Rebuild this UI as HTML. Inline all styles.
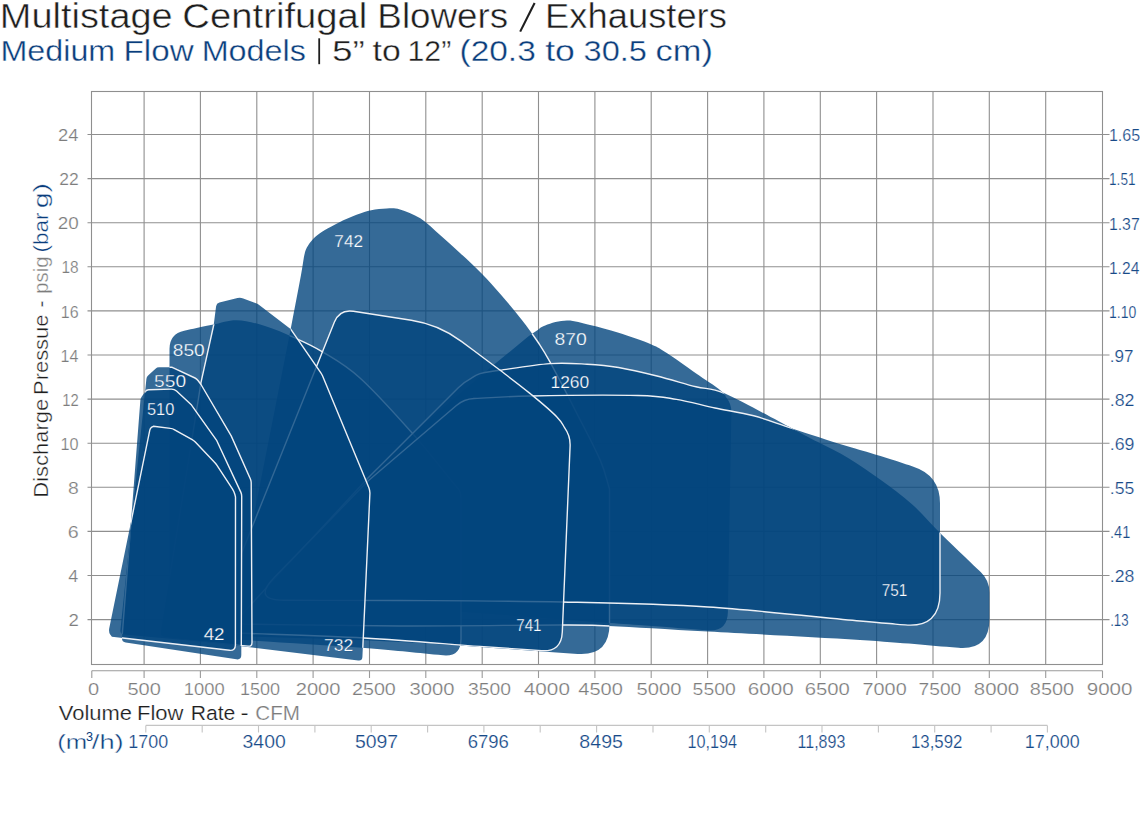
<!DOCTYPE html>
<html><head><meta charset="utf-8"><style>
html,body{margin:0;padding:0;background:#fff;width:1140px;height:838px;overflow:hidden}
body{position:relative;font-family:"Liberation Sans",sans-serif}
svg text{font-family:"Liberation Sans",sans-serif}
</style></head><body>
<svg width="1140" height="838" viewBox="0 0 1140 838" style="position:absolute;left:0;top:0;font-family:'Liberation Sans',sans-serif"><g stroke="#8f8f8f" stroke-width="1.1" fill="none"><line x1="144.1" y1="91" x2="144.1" y2="664.5"/><line x1="200.4" y1="91" x2="200.4" y2="664.5"/><line x1="256.8" y1="91" x2="256.8" y2="664.5"/><line x1="313.1" y1="91" x2="313.1" y2="664.5"/><line x1="369.5" y1="91" x2="369.5" y2="664.5"/><line x1="425.8" y1="91" x2="425.8" y2="664.5"/><line x1="482.2" y1="91" x2="482.2" y2="664.5"/><line x1="538.5" y1="91" x2="538.5" y2="664.5"/><line x1="594.9" y1="91" x2="594.9" y2="664.5"/><line x1="651.2" y1="91" x2="651.2" y2="664.5"/><line x1="707.6" y1="91" x2="707.6" y2="664.5"/><line x1="763.9" y1="91" x2="763.9" y2="664.5"/><line x1="820.3" y1="91" x2="820.3" y2="664.5"/><line x1="876.6" y1="91" x2="876.6" y2="664.5"/><line x1="933.0" y1="91" x2="933.0" y2="664.5"/><line x1="989.3" y1="91" x2="989.3" y2="664.5"/><line x1="1045.7" y1="91" x2="1045.7" y2="664.5"/><line x1="87.5" y1="619.6" x2="1109.5" y2="619.6"/><line x1="87.5" y1="575.5" x2="1109.5" y2="575.5"/><line x1="87.5" y1="531.4" x2="1109.5" y2="531.4"/><line x1="87.5" y1="487.3" x2="1109.5" y2="487.3"/><line x1="87.5" y1="443.2" x2="1109.5" y2="443.2"/><line x1="87.5" y1="399.1" x2="1109.5" y2="399.1"/><line x1="87.5" y1="355.0" x2="1109.5" y2="355.0"/><line x1="87.5" y1="310.9" x2="1109.5" y2="310.9"/><line x1="87.5" y1="266.8" x2="1109.5" y2="266.8"/><line x1="87.5" y1="222.7" x2="1109.5" y2="222.7"/><line x1="87.5" y1="178.6" x2="1109.5" y2="178.6"/><line x1="87.5" y1="134.5" x2="1109.5" y2="134.5"/><rect x="91.5" y="91.5" width="1011" height="573" fill="none"/></g><g stroke="#9a9a9a" stroke-width="1.1" fill="none"><line x1="91.8" y1="670.7" x2="1102.5" y2="670.7"/><line x1="91.8" y1="670.7" x2="91.8" y2="678"/><line x1="144.1" y1="670.7" x2="144.1" y2="678"/><line x1="200.4" y1="670.7" x2="200.4" y2="678"/><line x1="256.8" y1="670.7" x2="256.8" y2="678"/><line x1="313.1" y1="670.7" x2="313.1" y2="678"/><line x1="369.5" y1="670.7" x2="369.5" y2="678"/><line x1="425.8" y1="670.7" x2="425.8" y2="678"/><line x1="482.2" y1="670.7" x2="482.2" y2="678"/><line x1="538.5" y1="670.7" x2="538.5" y2="678"/><line x1="594.9" y1="670.7" x2="594.9" y2="678"/><line x1="651.2" y1="670.7" x2="651.2" y2="678"/><line x1="707.6" y1="670.7" x2="707.6" y2="678"/><line x1="763.9" y1="670.7" x2="763.9" y2="678"/><line x1="820.3" y1="670.7" x2="820.3" y2="678"/><line x1="876.6" y1="670.7" x2="876.6" y2="678"/><line x1="933.0" y1="670.7" x2="933.0" y2="678"/><line x1="989.3" y1="670.7" x2="989.3" y2="678"/><line x1="1045.7" y1="670.7" x2="1045.7" y2="678"/><line x1="1102.5" y1="670.7" x2="1102.5" y2="678"/></g><g stroke="#c4c4c4" stroke-width="1.1" fill="none"><line x1="145.8" y1="725.4" x2="1047.4" y2="725.4"/><line x1="145.8" y1="725.4" x2="145.8" y2="732.5"/><line x1="202.2" y1="725.4" x2="202.2" y2="732.5"/><line x1="258.5" y1="725.4" x2="258.5" y2="732.5"/><line x1="314.9" y1="725.4" x2="314.9" y2="732.5"/><line x1="371.2" y1="725.4" x2="371.2" y2="732.5"/><line x1="427.6" y1="725.4" x2="427.6" y2="732.5"/><line x1="483.9" y1="725.4" x2="483.9" y2="732.5"/><line x1="540.2" y1="725.4" x2="540.2" y2="732.5"/><line x1="596.6" y1="725.4" x2="596.6" y2="732.5"/><line x1="653.0" y1="725.4" x2="653.0" y2="732.5"/><line x1="709.3" y1="725.4" x2="709.3" y2="732.5"/><line x1="765.7" y1="725.4" x2="765.7" y2="732.5"/><line x1="822.0" y1="725.4" x2="822.0" y2="732.5"/><line x1="878.4" y1="725.4" x2="878.4" y2="732.5"/><line x1="934.7" y1="725.4" x2="934.7" y2="732.5"/><line x1="991.1" y1="725.4" x2="991.1" y2="732.5"/><line x1="1047.4" y1="725.4" x2="1047.4" y2="732.5"/></g><defs><mask id="m742" maskUnits="userSpaceOnUse" x="0" y="0" width="1140" height="838"><path d="M494.7,364.1L527.3,337.3Q531.9,333.5 537.0,330.4C539.7,328.7 539.4,327.5 545.2,325.4C551.1,323.2 559.5,320.7 567.0,320.6C574.5,320.5 581.4,323.0 590.0,325.0C598.6,327.0 608.4,329.6 618.6,332.8C628.8,336.0 643.4,341.0 651.4,344.4C659.4,347.8 659.4,348.3 666.8,353.1C674.2,357.9 686.8,367.0 695.8,373.3C704.8,379.6 714.9,385.6 720.9,390.7C726.9,395.8 724.6,395.4 726.5,397.7Q731.5,404.0 731.4,412.0L727.9,612.0Q727.5,632.0 707.6,630.4C689.0,628.9 671.8,627.5 652.0,626.0C632.2,624.5 623.3,624.0 609.0,623.0L314.0,601.0Q300.0,600.0 304.9,586.9L330.0,520.0L412.0,434.0L494.7,364.1Z" fill="#fff"/></mask><mask id="m850" maskUnits="userSpaceOnUse" x="0" y="0" width="1140" height="838"><path d="M494.7,364.1L527.3,337.3Q531.9,333.5 537.0,330.4C539.7,328.7 539.4,327.5 545.2,325.4C551.1,323.2 559.5,320.7 567.0,320.6C574.5,320.5 581.4,323.0 590.0,325.0C598.6,327.0 608.4,329.6 618.6,332.8C628.8,336.0 643.4,341.0 651.4,344.4C659.4,347.8 659.4,348.3 666.8,353.1C674.2,357.9 686.8,367.0 695.8,373.3C704.8,379.6 714.9,385.6 720.9,390.7C726.9,395.8 724.6,395.4 726.5,397.7Q731.5,404.0 731.4,412.0L727.9,612.0Q727.5,632.0 707.6,630.4C689.0,628.9 671.8,627.5 652.0,626.0C632.2,624.5 623.3,624.0 609.0,623.0L314.0,601.0Q300.0,600.0 304.9,586.9L330.0,520.0L412.0,434.0L494.7,364.1Z" fill="#fff"/><path d="M290.5,330.0C294.0,311.7 298.6,287.7 301.0,275.0C303.4,262.3 303.4,258.9 304.6,254.0C305.8,249.1 306.4,248.3 308.1,245.5C309.9,242.7 312.3,239.7 315.1,237.1C317.9,234.5 320.9,232.5 324.9,230.1C328.9,227.7 333.6,225.0 339.0,222.4C344.4,219.8 351.8,216.6 357.2,214.6C362.6,212.6 366.3,211.2 371.2,210.2C376.1,209.2 381.9,208.5 386.7,208.4C391.5,208.3 394.4,207.8 400.0,209.4C405.6,211.1 413.5,214.0 420.3,218.3C427.1,222.7 433.9,229.6 440.6,235.5C447.4,241.4 454.1,247.4 460.8,253.7C467.6,259.9 474.3,266.1 481.1,273.0C487.9,279.9 494.6,287.5 501.4,295.3C508.2,303.1 515.6,311.9 521.7,319.7C527.8,327.5 533.2,334.9 537.9,342.0C542.6,349.1 543.6,350.2 550.1,362.2C556.6,374.1 568.6,397.3 577.0,413.7C585.4,430.1 594.9,447.8 600.3,460.4C605.7,472.9 606.4,479.5 609.5,489.0L609.5,624.0Q609.5,656.0 577.6,653.9C518.4,649.9 463.2,645.3 400.0,642.0C336.8,638.7 290.7,638.1 236.0,636.2Q230.0,636.0 231.2,630.1L290.5,330.0Z" fill="#fff"/></mask><mask id="m1260" maskUnits="userSpaceOnUse" x="0" y="0" width="1140" height="838"><path d="M494.7,364.1L527.3,337.3Q531.9,333.5 537.0,330.4C539.7,328.7 539.4,327.5 545.2,325.4C551.1,323.2 559.5,320.7 567.0,320.6C574.5,320.5 581.4,323.0 590.0,325.0C598.6,327.0 608.4,329.6 618.6,332.8C628.8,336.0 643.4,341.0 651.4,344.4C659.4,347.8 659.4,348.3 666.8,353.1C674.2,357.9 686.8,367.0 695.8,373.3C704.8,379.6 714.9,385.6 720.9,390.7C726.9,395.8 724.6,395.4 726.5,397.7Q731.5,404.0 731.4,412.0L727.9,612.0Q727.5,632.0 707.6,630.4C689.0,628.9 671.8,627.5 652.0,626.0C632.2,624.5 623.3,624.0 609.0,623.0L314.0,601.0Q300.0,600.0 304.9,586.9L330.0,520.0L412.0,434.0L494.7,364.1Z" fill="#fff"/><path d="M290.5,330.0C294.0,311.7 298.6,287.7 301.0,275.0C303.4,262.3 303.4,258.9 304.6,254.0C305.8,249.1 306.4,248.3 308.1,245.5C309.9,242.7 312.3,239.7 315.1,237.1C317.9,234.5 320.9,232.5 324.9,230.1C328.9,227.7 333.6,225.0 339.0,222.4C344.4,219.8 351.8,216.6 357.2,214.6C362.6,212.6 366.3,211.2 371.2,210.2C376.1,209.2 381.9,208.5 386.7,208.4C391.5,208.3 394.4,207.8 400.0,209.4C405.6,211.1 413.5,214.0 420.3,218.3C427.1,222.7 433.9,229.6 440.6,235.5C447.4,241.4 454.1,247.4 460.8,253.7C467.6,259.9 474.3,266.1 481.1,273.0C487.9,279.9 494.6,287.5 501.4,295.3C508.2,303.1 515.6,311.9 521.7,319.7C527.8,327.5 533.2,334.9 537.9,342.0C542.6,349.1 543.6,350.2 550.1,362.2C556.6,374.1 568.6,397.3 577.0,413.7C585.4,430.1 594.9,447.8 600.3,460.4C605.7,472.9 606.4,479.5 609.5,489.0L609.5,624.0Q609.5,656.0 577.6,653.9C518.4,649.9 463.2,645.3 400.0,642.0C336.8,638.7 290.7,638.1 236.0,636.2Q230.0,636.0 231.2,630.1L290.5,330.0Z" fill="#fff"/><path d="M184.2,330.8C193.1,328.9 199.7,327.4 210.9,325.1C222.1,322.8 227.8,320.1 236.8,320.2C245.8,320.3 255.4,323.1 265.0,326.0C274.6,328.9 284.8,333.4 294.4,337.7C304.0,342.0 311.6,345.1 322.5,351.8C333.4,358.5 344.8,364.2 360.0,378.0C375.2,391.8 397.9,417.0 413.7,434.8C429.5,452.6 441.2,468.3 455.0,485.0L458.0,488.5Q461.0,492.0 461.0,498.0L461.0,639.0Q461.0,657.0 443.1,655.3C417.1,652.9 399.8,650.8 365.0,648.0C330.2,645.2 284.6,642.8 252.0,640.5C219.4,638.2 199.7,636.4 173.5,634.3Q169.5,634.0 169.5,630.0L169.5,349.0Q169.5,334.0 184.2,330.8Z" fill="#fff"/></mask><mask id="m751" maskUnits="userSpaceOnUse" x="0" y="0" width="1140" height="838"><path d="M494.7,364.1L527.3,337.3Q531.9,333.5 537.0,330.4C539.7,328.7 539.4,327.5 545.2,325.4C551.1,323.2 559.5,320.7 567.0,320.6C574.5,320.5 581.4,323.0 590.0,325.0C598.6,327.0 608.4,329.6 618.6,332.8C628.8,336.0 643.4,341.0 651.4,344.4C659.4,347.8 659.4,348.3 666.8,353.1C674.2,357.9 686.8,367.0 695.8,373.3C704.8,379.6 714.9,385.6 720.9,390.7C726.9,395.8 724.6,395.4 726.5,397.7Q731.5,404.0 731.4,412.0L727.9,612.0Q727.5,632.0 707.6,630.4C689.0,628.9 671.8,627.5 652.0,626.0C632.2,624.5 623.3,624.0 609.0,623.0L314.0,601.0Q300.0,600.0 304.9,586.9L330.0,520.0L412.0,434.0L494.7,364.1Z" fill="#fff"/><path d="M290.5,330.0C294.0,311.7 298.6,287.7 301.0,275.0C303.4,262.3 303.4,258.9 304.6,254.0C305.8,249.1 306.4,248.3 308.1,245.5C309.9,242.7 312.3,239.7 315.1,237.1C317.9,234.5 320.9,232.5 324.9,230.1C328.9,227.7 333.6,225.0 339.0,222.4C344.4,219.8 351.8,216.6 357.2,214.6C362.6,212.6 366.3,211.2 371.2,210.2C376.1,209.2 381.9,208.5 386.7,208.4C391.5,208.3 394.4,207.8 400.0,209.4C405.6,211.1 413.5,214.0 420.3,218.3C427.1,222.7 433.9,229.6 440.6,235.5C447.4,241.4 454.1,247.4 460.8,253.7C467.6,259.9 474.3,266.1 481.1,273.0C487.9,279.9 494.6,287.5 501.4,295.3C508.2,303.1 515.6,311.9 521.7,319.7C527.8,327.5 533.2,334.9 537.9,342.0C542.6,349.1 543.6,350.2 550.1,362.2C556.6,374.1 568.6,397.3 577.0,413.7C585.4,430.1 594.9,447.8 600.3,460.4C605.7,472.9 606.4,479.5 609.5,489.0L609.5,624.0Q609.5,656.0 577.6,653.9C518.4,649.9 463.2,645.3 400.0,642.0C336.8,638.7 290.7,638.1 236.0,636.2Q230.0,636.0 231.2,630.1L290.5,330.0Z" fill="#fff"/><path d="M184.2,330.8C193.1,328.9 199.7,327.4 210.9,325.1C222.1,322.8 227.8,320.1 236.8,320.2C245.8,320.3 255.4,323.1 265.0,326.0C274.6,328.9 284.8,333.4 294.4,337.7C304.0,342.0 311.6,345.1 322.5,351.8C333.4,358.5 344.8,364.2 360.0,378.0C375.2,391.8 397.9,417.0 413.7,434.8C429.5,452.6 441.2,468.3 455.0,485.0L458.0,488.5Q461.0,492.0 461.0,498.0L461.0,639.0Q461.0,657.0 443.1,655.3C417.1,652.9 399.8,650.8 365.0,648.0C330.2,645.2 284.6,642.8 252.0,640.5C219.4,638.2 199.7,636.4 173.5,634.3Q169.5,634.0 169.5,630.0L169.5,349.0Q169.5,334.0 184.2,330.8Z" fill="#fff"/><path d="M242.5,613.7L367.0,479.0L458.3,387.7Q464.0,382.0 471.1,378.3C474.1,376.7 474.0,375.6 480.0,373.6C486.0,371.7 488.3,372.0 500.0,370.3C511.7,368.6 535.5,364.6 550.0,363.6C564.5,362.6 575.6,363.6 587.0,364.2C598.4,364.8 606.9,365.5 618.6,367.5C630.3,369.5 644.1,372.8 657.0,376.0C669.9,379.2 684.7,383.9 696.0,386.8C707.3,389.7 709.0,386.7 725.0,393.6C741.0,400.5 776.6,420.4 792.0,428.4C807.4,436.4 807.9,436.8 817.4,441.8C826.9,446.8 838.5,452.1 849.0,458.4C859.5,464.7 870.0,472.1 880.5,479.7C891.0,487.3 902.1,495.3 912.0,504.2C921.9,513.1 931.2,524.2 940.0,533.0C948.8,541.8 956.8,549.1 965.0,557.0C973.2,564.9 975.5,567.1 980.7,572.1Q989.4,580.4 989.4,592.4L989.4,619.2Q989.4,650.2 958.5,647.8C925.7,645.2 906.9,643.1 860.0,640.0C813.1,636.9 749.8,633.9 708.0,631.6C666.2,629.3 633.7,627.1 609.0,626.0C584.3,624.9 594.8,625.0 560.0,625.0C525.2,625.0 454.5,626.2 400.0,626.0C345.5,625.8 298.0,624.8 247.0,624.2Q233.0,624.0 242.5,613.7Z" fill="#fff"/></mask><mask id="m741" maskUnits="userSpaceOnUse" x="0" y="0" width="1140" height="838"><path d="M494.7,364.1L527.3,337.3Q531.9,333.5 537.0,330.4C539.7,328.7 539.4,327.5 545.2,325.4C551.1,323.2 559.5,320.7 567.0,320.6C574.5,320.5 581.4,323.0 590.0,325.0C598.6,327.0 608.4,329.6 618.6,332.8C628.8,336.0 643.4,341.0 651.4,344.4C659.4,347.8 659.4,348.3 666.8,353.1C674.2,357.9 686.8,367.0 695.8,373.3C704.8,379.6 714.9,385.6 720.9,390.7C726.9,395.8 724.6,395.4 726.5,397.7Q731.5,404.0 731.4,412.0L727.9,612.0Q727.5,632.0 707.6,630.4C689.0,628.9 671.8,627.5 652.0,626.0C632.2,624.5 623.3,624.0 609.0,623.0L314.0,601.0Q300.0,600.0 304.9,586.9L330.0,520.0L412.0,434.0L494.7,364.1Z" fill="#fff"/><path d="M290.5,330.0C294.0,311.7 298.6,287.7 301.0,275.0C303.4,262.3 303.4,258.9 304.6,254.0C305.8,249.1 306.4,248.3 308.1,245.5C309.9,242.7 312.3,239.7 315.1,237.1C317.9,234.5 320.9,232.5 324.9,230.1C328.9,227.7 333.6,225.0 339.0,222.4C344.4,219.8 351.8,216.6 357.2,214.6C362.6,212.6 366.3,211.2 371.2,210.2C376.1,209.2 381.9,208.5 386.7,208.4C391.5,208.3 394.4,207.8 400.0,209.4C405.6,211.1 413.5,214.0 420.3,218.3C427.1,222.7 433.9,229.6 440.6,235.5C447.4,241.4 454.1,247.4 460.8,253.7C467.6,259.9 474.3,266.1 481.1,273.0C487.9,279.9 494.6,287.5 501.4,295.3C508.2,303.1 515.6,311.9 521.7,319.7C527.8,327.5 533.2,334.9 537.9,342.0C542.6,349.1 543.6,350.2 550.1,362.2C556.6,374.1 568.6,397.3 577.0,413.7C585.4,430.1 594.9,447.8 600.3,460.4C605.7,472.9 606.4,479.5 609.5,489.0L609.5,624.0Q609.5,656.0 577.6,653.9C518.4,649.9 463.2,645.3 400.0,642.0C336.8,638.7 290.7,638.1 236.0,636.2Q230.0,636.0 231.2,630.1L290.5,330.0Z" fill="#fff"/><path d="M184.2,330.8C193.1,328.9 199.7,327.4 210.9,325.1C222.1,322.8 227.8,320.1 236.8,320.2C245.8,320.3 255.4,323.1 265.0,326.0C274.6,328.9 284.8,333.4 294.4,337.7C304.0,342.0 311.6,345.1 322.5,351.8C333.4,358.5 344.8,364.2 360.0,378.0C375.2,391.8 397.9,417.0 413.7,434.8C429.5,452.6 441.2,468.3 455.0,485.0L458.0,488.5Q461.0,492.0 461.0,498.0L461.0,639.0Q461.0,657.0 443.1,655.3C417.1,652.9 399.8,650.8 365.0,648.0C330.2,645.2 284.6,642.8 252.0,640.5C219.4,638.2 199.7,636.4 173.5,634.3Q169.5,634.0 169.5,630.0L169.5,349.0Q169.5,334.0 184.2,330.8Z" fill="#fff"/><path d="M242.5,613.7L367.0,479.0L458.3,387.7Q464.0,382.0 471.1,378.3C474.1,376.7 474.0,375.6 480.0,373.6C486.0,371.7 488.3,372.0 500.0,370.3C511.7,368.6 535.5,364.6 550.0,363.6C564.5,362.6 575.6,363.6 587.0,364.2C598.4,364.8 606.9,365.5 618.6,367.5C630.3,369.5 644.1,372.8 657.0,376.0C669.9,379.2 684.7,383.9 696.0,386.8C707.3,389.7 709.0,386.7 725.0,393.6C741.0,400.5 776.6,420.4 792.0,428.4C807.4,436.4 807.9,436.8 817.4,441.8C826.9,446.8 838.5,452.1 849.0,458.4C859.5,464.7 870.0,472.1 880.5,479.7C891.0,487.3 902.1,495.3 912.0,504.2C921.9,513.1 931.2,524.2 940.0,533.0C948.8,541.8 956.8,549.1 965.0,557.0C973.2,564.9 975.5,567.1 980.7,572.1Q989.4,580.4 989.4,592.4L989.4,619.2Q989.4,650.2 958.5,647.8C925.7,645.2 906.9,643.1 860.0,640.0C813.1,636.9 749.8,633.9 708.0,631.6C666.2,629.3 633.7,627.1 609.0,626.0C584.3,624.9 594.8,625.0 560.0,625.0C525.2,625.0 454.5,626.2 400.0,626.0C345.5,625.8 298.0,624.8 247.0,624.2Q233.0,624.0 242.5,613.7Z" fill="#fff"/><path d="M474.0,398.5C492.7,397.7 501.0,396.6 530.0,396.0C559.0,395.4 613.6,394.9 638.0,395.5C662.4,396.1 663.7,397.3 676.5,399.4C689.3,401.5 702.1,405.3 715.0,408.0C727.9,410.7 740.9,412.4 753.7,415.8C766.5,419.2 776.6,423.4 792.0,428.4C807.4,433.4 831.0,441.2 845.8,445.8C860.5,450.4 864.8,451.2 880.5,456.1C896.2,461.0 902.4,463.2 913.4,466.7Q940.0,475.3 940.0,503.3L940.0,593.0Q940.0,628.0 905.1,624.9C890.1,623.6 898.7,624.5 860.0,621.0C821.3,617.5 757.7,610.2 708.0,607.0C658.3,603.8 613.3,603.1 562.0,602.0C510.7,600.9 451.7,600.8 400.0,600.5C348.3,600.2 322.7,600.4 284.0,600.3Q252.0,600.3 274.3,577.4L368.0,481.0L456.4,405.5Q464.0,399.0 474.0,398.5Z" fill="#fff"/></mask><mask id="m732" maskUnits="userSpaceOnUse" x="0" y="0" width="1140" height="838"><path d="M494.7,364.1L527.3,337.3Q531.9,333.5 537.0,330.4C539.7,328.7 539.4,327.5 545.2,325.4C551.1,323.2 559.5,320.7 567.0,320.6C574.5,320.5 581.4,323.0 590.0,325.0C598.6,327.0 608.4,329.6 618.6,332.8C628.8,336.0 643.4,341.0 651.4,344.4C659.4,347.8 659.4,348.3 666.8,353.1C674.2,357.9 686.8,367.0 695.8,373.3C704.8,379.6 714.9,385.6 720.9,390.7C726.9,395.8 724.6,395.4 726.5,397.7Q731.5,404.0 731.4,412.0L727.9,612.0Q727.5,632.0 707.6,630.4C689.0,628.9 671.8,627.5 652.0,626.0C632.2,624.5 623.3,624.0 609.0,623.0L314.0,601.0Q300.0,600.0 304.9,586.9L330.0,520.0L412.0,434.0L494.7,364.1Z" fill="#fff"/><path d="M290.5,330.0C294.0,311.7 298.6,287.7 301.0,275.0C303.4,262.3 303.4,258.9 304.6,254.0C305.8,249.1 306.4,248.3 308.1,245.5C309.9,242.7 312.3,239.7 315.1,237.1C317.9,234.5 320.9,232.5 324.9,230.1C328.9,227.7 333.6,225.0 339.0,222.4C344.4,219.8 351.8,216.6 357.2,214.6C362.6,212.6 366.3,211.2 371.2,210.2C376.1,209.2 381.9,208.5 386.7,208.4C391.5,208.3 394.4,207.8 400.0,209.4C405.6,211.1 413.5,214.0 420.3,218.3C427.1,222.7 433.9,229.6 440.6,235.5C447.4,241.4 454.1,247.4 460.8,253.7C467.6,259.9 474.3,266.1 481.1,273.0C487.9,279.9 494.6,287.5 501.4,295.3C508.2,303.1 515.6,311.9 521.7,319.7C527.8,327.5 533.2,334.9 537.9,342.0C542.6,349.1 543.6,350.2 550.1,362.2C556.6,374.1 568.6,397.3 577.0,413.7C585.4,430.1 594.9,447.8 600.3,460.4C605.7,472.9 606.4,479.5 609.5,489.0L609.5,624.0Q609.5,656.0 577.6,653.9C518.4,649.9 463.2,645.3 400.0,642.0C336.8,638.7 290.7,638.1 236.0,636.2Q230.0,636.0 231.2,630.1L290.5,330.0Z" fill="#fff"/><path d="M184.2,330.8C193.1,328.9 199.7,327.4 210.9,325.1C222.1,322.8 227.8,320.1 236.8,320.2C245.8,320.3 255.4,323.1 265.0,326.0C274.6,328.9 284.8,333.4 294.4,337.7C304.0,342.0 311.6,345.1 322.5,351.8C333.4,358.5 344.8,364.2 360.0,378.0C375.2,391.8 397.9,417.0 413.7,434.8C429.5,452.6 441.2,468.3 455.0,485.0L458.0,488.5Q461.0,492.0 461.0,498.0L461.0,639.0Q461.0,657.0 443.1,655.3C417.1,652.9 399.8,650.8 365.0,648.0C330.2,645.2 284.6,642.8 252.0,640.5C219.4,638.2 199.7,636.4 173.5,634.3Q169.5,634.0 169.5,630.0L169.5,349.0Q169.5,334.0 184.2,330.8Z" fill="#fff"/><path d="M242.5,613.7L367.0,479.0L458.3,387.7Q464.0,382.0 471.1,378.3C474.1,376.7 474.0,375.6 480.0,373.6C486.0,371.7 488.3,372.0 500.0,370.3C511.7,368.6 535.5,364.6 550.0,363.6C564.5,362.6 575.6,363.6 587.0,364.2C598.4,364.8 606.9,365.5 618.6,367.5C630.3,369.5 644.1,372.8 657.0,376.0C669.9,379.2 684.7,383.9 696.0,386.8C707.3,389.7 709.0,386.7 725.0,393.6C741.0,400.5 776.6,420.4 792.0,428.4C807.4,436.4 807.9,436.8 817.4,441.8C826.9,446.8 838.5,452.1 849.0,458.4C859.5,464.7 870.0,472.1 880.5,479.7C891.0,487.3 902.1,495.3 912.0,504.2C921.9,513.1 931.2,524.2 940.0,533.0C948.8,541.8 956.8,549.1 965.0,557.0C973.2,564.9 975.5,567.1 980.7,572.1Q989.4,580.4 989.4,592.4L989.4,619.2Q989.4,650.2 958.5,647.8C925.7,645.2 906.9,643.1 860.0,640.0C813.1,636.9 749.8,633.9 708.0,631.6C666.2,629.3 633.7,627.1 609.0,626.0C584.3,624.9 594.8,625.0 560.0,625.0C525.2,625.0 454.5,626.2 400.0,626.0C345.5,625.8 298.0,624.8 247.0,624.2Q233.0,624.0 242.5,613.7Z" fill="#fff"/><path d="M474.0,398.5C492.7,397.7 501.0,396.6 530.0,396.0C559.0,395.4 613.6,394.9 638.0,395.5C662.4,396.1 663.7,397.3 676.5,399.4C689.3,401.5 702.1,405.3 715.0,408.0C727.9,410.7 740.9,412.4 753.7,415.8C766.5,419.2 776.6,423.4 792.0,428.4C807.4,433.4 831.0,441.2 845.8,445.8C860.5,450.4 864.8,451.2 880.5,456.1C896.2,461.0 902.4,463.2 913.4,466.7Q940.0,475.3 940.0,503.3L940.0,593.0Q940.0,628.0 905.1,624.9C890.1,623.6 898.7,624.5 860.0,621.0C821.3,617.5 757.7,610.2 708.0,607.0C658.3,603.8 613.3,603.1 562.0,602.0C510.7,600.9 451.7,600.8 400.0,600.5C348.3,600.2 322.7,600.4 284.0,600.3Q252.0,600.3 274.3,577.4L368.0,481.0L456.4,405.5Q464.0,399.0 474.0,398.5Z" fill="#fff"/><path d="M353.4,311.3L411.3,320.3Q439.0,324.6 461.4,341.4C474.3,351.0 484.9,358.8 500.1,370.3C515.3,381.8 520.7,385.8 530.2,393.6C539.7,401.4 550.2,409.9 556.9,417.0C563.6,424.1 562.1,424.2 564.7,427.9Q570.5,436.0 570.1,446.0L562.3,632.0Q561.5,652.0 541.5,650.7C521.0,649.3 512.9,648.8 480.0,646.5C447.1,644.2 409.0,640.4 364.0,638.0C319.0,635.6 265.3,634.2 216.0,632.2Q210.0,632.0 212.2,626.4L334.4,322.1Q339.6,309.1 353.4,311.3Z" fill="#fff"/></mask><mask id="m550" maskUnits="userSpaceOnUse" x="0" y="0" width="1140" height="838"><path d="M494.7,364.1L527.3,337.3Q531.9,333.5 537.0,330.4C539.7,328.7 539.4,327.5 545.2,325.4C551.1,323.2 559.5,320.7 567.0,320.6C574.5,320.5 581.4,323.0 590.0,325.0C598.6,327.0 608.4,329.6 618.6,332.8C628.8,336.0 643.4,341.0 651.4,344.4C659.4,347.8 659.4,348.3 666.8,353.1C674.2,357.9 686.8,367.0 695.8,373.3C704.8,379.6 714.9,385.6 720.9,390.7C726.9,395.8 724.6,395.4 726.5,397.7Q731.5,404.0 731.4,412.0L727.9,612.0Q727.5,632.0 707.6,630.4C689.0,628.9 671.8,627.5 652.0,626.0C632.2,624.5 623.3,624.0 609.0,623.0L314.0,601.0Q300.0,600.0 304.9,586.9L330.0,520.0L412.0,434.0L494.7,364.1Z" fill="#fff"/><path d="M290.5,330.0C294.0,311.7 298.6,287.7 301.0,275.0C303.4,262.3 303.4,258.9 304.6,254.0C305.8,249.1 306.4,248.3 308.1,245.5C309.9,242.7 312.3,239.7 315.1,237.1C317.9,234.5 320.9,232.5 324.9,230.1C328.9,227.7 333.6,225.0 339.0,222.4C344.4,219.8 351.8,216.6 357.2,214.6C362.6,212.6 366.3,211.2 371.2,210.2C376.1,209.2 381.9,208.5 386.7,208.4C391.5,208.3 394.4,207.8 400.0,209.4C405.6,211.1 413.5,214.0 420.3,218.3C427.1,222.7 433.9,229.6 440.6,235.5C447.4,241.4 454.1,247.4 460.8,253.7C467.6,259.9 474.3,266.1 481.1,273.0C487.9,279.9 494.6,287.5 501.4,295.3C508.2,303.1 515.6,311.9 521.7,319.7C527.8,327.5 533.2,334.9 537.9,342.0C542.6,349.1 543.6,350.2 550.1,362.2C556.6,374.1 568.6,397.3 577.0,413.7C585.4,430.1 594.9,447.8 600.3,460.4C605.7,472.9 606.4,479.5 609.5,489.0L609.5,624.0Q609.5,656.0 577.6,653.9C518.4,649.9 463.2,645.3 400.0,642.0C336.8,638.7 290.7,638.1 236.0,636.2Q230.0,636.0 231.2,630.1L290.5,330.0Z" fill="#fff"/><path d="M184.2,330.8C193.1,328.9 199.7,327.4 210.9,325.1C222.1,322.8 227.8,320.1 236.8,320.2C245.8,320.3 255.4,323.1 265.0,326.0C274.6,328.9 284.8,333.4 294.4,337.7C304.0,342.0 311.6,345.1 322.5,351.8C333.4,358.5 344.8,364.2 360.0,378.0C375.2,391.8 397.9,417.0 413.7,434.8C429.5,452.6 441.2,468.3 455.0,485.0L458.0,488.5Q461.0,492.0 461.0,498.0L461.0,639.0Q461.0,657.0 443.1,655.3C417.1,652.9 399.8,650.8 365.0,648.0C330.2,645.2 284.6,642.8 252.0,640.5C219.4,638.2 199.7,636.4 173.5,634.3Q169.5,634.0 169.5,630.0L169.5,349.0Q169.5,334.0 184.2,330.8Z" fill="#fff"/><path d="M242.5,613.7L367.0,479.0L458.3,387.7Q464.0,382.0 471.1,378.3C474.1,376.7 474.0,375.6 480.0,373.6C486.0,371.7 488.3,372.0 500.0,370.3C511.7,368.6 535.5,364.6 550.0,363.6C564.5,362.6 575.6,363.6 587.0,364.2C598.4,364.8 606.9,365.5 618.6,367.5C630.3,369.5 644.1,372.8 657.0,376.0C669.9,379.2 684.7,383.9 696.0,386.8C707.3,389.7 709.0,386.7 725.0,393.6C741.0,400.5 776.6,420.4 792.0,428.4C807.4,436.4 807.9,436.8 817.4,441.8C826.9,446.8 838.5,452.1 849.0,458.4C859.5,464.7 870.0,472.1 880.5,479.7C891.0,487.3 902.1,495.3 912.0,504.2C921.9,513.1 931.2,524.2 940.0,533.0C948.8,541.8 956.8,549.1 965.0,557.0C973.2,564.9 975.5,567.1 980.7,572.1Q989.4,580.4 989.4,592.4L989.4,619.2Q989.4,650.2 958.5,647.8C925.7,645.2 906.9,643.1 860.0,640.0C813.1,636.9 749.8,633.9 708.0,631.6C666.2,629.3 633.7,627.1 609.0,626.0C584.3,624.9 594.8,625.0 560.0,625.0C525.2,625.0 454.5,626.2 400.0,626.0C345.5,625.8 298.0,624.8 247.0,624.2Q233.0,624.0 242.5,613.7Z" fill="#fff"/><path d="M474.0,398.5C492.7,397.7 501.0,396.6 530.0,396.0C559.0,395.4 613.6,394.9 638.0,395.5C662.4,396.1 663.7,397.3 676.5,399.4C689.3,401.5 702.1,405.3 715.0,408.0C727.9,410.7 740.9,412.4 753.7,415.8C766.5,419.2 776.6,423.4 792.0,428.4C807.4,433.4 831.0,441.2 845.8,445.8C860.5,450.4 864.8,451.2 880.5,456.1C896.2,461.0 902.4,463.2 913.4,466.7Q940.0,475.3 940.0,503.3L940.0,593.0Q940.0,628.0 905.1,624.9C890.1,623.6 898.7,624.5 860.0,621.0C821.3,617.5 757.7,610.2 708.0,607.0C658.3,603.8 613.3,603.1 562.0,602.0C510.7,600.9 451.7,600.8 400.0,600.5C348.3,600.2 322.7,600.4 284.0,600.3Q252.0,600.3 274.3,577.4L368.0,481.0L456.4,405.5Q464.0,399.0 474.0,398.5Z" fill="#fff"/><path d="M353.4,311.3L411.3,320.3Q439.0,324.6 461.4,341.4C474.3,351.0 484.9,358.8 500.1,370.3C515.3,381.8 520.7,385.8 530.2,393.6C539.7,401.4 550.2,409.9 556.9,417.0C563.6,424.1 562.1,424.2 564.7,427.9Q570.5,436.0 570.1,446.0L562.3,632.0Q561.5,652.0 541.5,650.7C521.0,649.3 512.9,648.8 480.0,646.5C447.1,644.2 409.0,640.4 364.0,638.0C319.0,635.6 265.3,634.2 216.0,632.2Q210.0,632.0 212.2,626.4L334.4,322.1Q339.6,309.1 353.4,311.3Z" fill="#fff"/><path d="M219.4,302.6L237.5,298.0Q240.4,297.3 243.2,298.4L256.0,303.3Q257.9,304.0 259.5,305.2L290.9,329.3L320.7,372.6Q321.8,374.2 322.6,376.0L368.9,487.7Q370.0,490.5 369.9,493.5L362.4,657.0Q362.2,661.0 358.2,660.5L252.0,647.4L165.0,637.1Q160.0,636.5 160.8,631.6L189.0,458.0L201.0,382.4L213.7,325.0L216.1,306.3Q216.5,303.3 219.4,302.6Z" fill="#fff"/></mask><mask id="m510" maskUnits="userSpaceOnUse" x="0" y="0" width="1140" height="838"><path d="M494.7,364.1L527.3,337.3Q531.9,333.5 537.0,330.4C539.7,328.7 539.4,327.5 545.2,325.4C551.1,323.2 559.5,320.7 567.0,320.6C574.5,320.5 581.4,323.0 590.0,325.0C598.6,327.0 608.4,329.6 618.6,332.8C628.8,336.0 643.4,341.0 651.4,344.4C659.4,347.8 659.4,348.3 666.8,353.1C674.2,357.9 686.8,367.0 695.8,373.3C704.8,379.6 714.9,385.6 720.9,390.7C726.9,395.8 724.6,395.4 726.5,397.7Q731.5,404.0 731.4,412.0L727.9,612.0Q727.5,632.0 707.6,630.4C689.0,628.9 671.8,627.5 652.0,626.0C632.2,624.5 623.3,624.0 609.0,623.0L314.0,601.0Q300.0,600.0 304.9,586.9L330.0,520.0L412.0,434.0L494.7,364.1Z" fill="#fff"/><path d="M290.5,330.0C294.0,311.7 298.6,287.7 301.0,275.0C303.4,262.3 303.4,258.9 304.6,254.0C305.8,249.1 306.4,248.3 308.1,245.5C309.9,242.7 312.3,239.7 315.1,237.1C317.9,234.5 320.9,232.5 324.9,230.1C328.9,227.7 333.6,225.0 339.0,222.4C344.4,219.8 351.8,216.6 357.2,214.6C362.6,212.6 366.3,211.2 371.2,210.2C376.1,209.2 381.9,208.5 386.7,208.4C391.5,208.3 394.4,207.8 400.0,209.4C405.6,211.1 413.5,214.0 420.3,218.3C427.1,222.7 433.9,229.6 440.6,235.5C447.4,241.4 454.1,247.4 460.8,253.7C467.6,259.9 474.3,266.1 481.1,273.0C487.9,279.9 494.6,287.5 501.4,295.3C508.2,303.1 515.6,311.9 521.7,319.7C527.8,327.5 533.2,334.9 537.9,342.0C542.6,349.1 543.6,350.2 550.1,362.2C556.6,374.1 568.6,397.3 577.0,413.7C585.4,430.1 594.9,447.8 600.3,460.4C605.7,472.9 606.4,479.5 609.5,489.0L609.5,624.0Q609.5,656.0 577.6,653.9C518.4,649.9 463.2,645.3 400.0,642.0C336.8,638.7 290.7,638.1 236.0,636.2Q230.0,636.0 231.2,630.1L290.5,330.0Z" fill="#fff"/><path d="M184.2,330.8C193.1,328.9 199.7,327.4 210.9,325.1C222.1,322.8 227.8,320.1 236.8,320.2C245.8,320.3 255.4,323.1 265.0,326.0C274.6,328.9 284.8,333.4 294.4,337.7C304.0,342.0 311.6,345.1 322.5,351.8C333.4,358.5 344.8,364.2 360.0,378.0C375.2,391.8 397.9,417.0 413.7,434.8C429.5,452.6 441.2,468.3 455.0,485.0L458.0,488.5Q461.0,492.0 461.0,498.0L461.0,639.0Q461.0,657.0 443.1,655.3C417.1,652.9 399.8,650.8 365.0,648.0C330.2,645.2 284.6,642.8 252.0,640.5C219.4,638.2 199.7,636.4 173.5,634.3Q169.5,634.0 169.5,630.0L169.5,349.0Q169.5,334.0 184.2,330.8Z" fill="#fff"/><path d="M242.5,613.7L367.0,479.0L458.3,387.7Q464.0,382.0 471.1,378.3C474.1,376.7 474.0,375.6 480.0,373.6C486.0,371.7 488.3,372.0 500.0,370.3C511.7,368.6 535.5,364.6 550.0,363.6C564.5,362.6 575.6,363.6 587.0,364.2C598.4,364.8 606.9,365.5 618.6,367.5C630.3,369.5 644.1,372.8 657.0,376.0C669.9,379.2 684.7,383.9 696.0,386.8C707.3,389.7 709.0,386.7 725.0,393.6C741.0,400.5 776.6,420.4 792.0,428.4C807.4,436.4 807.9,436.8 817.4,441.8C826.9,446.8 838.5,452.1 849.0,458.4C859.5,464.7 870.0,472.1 880.5,479.7C891.0,487.3 902.1,495.3 912.0,504.2C921.9,513.1 931.2,524.2 940.0,533.0C948.8,541.8 956.8,549.1 965.0,557.0C973.2,564.9 975.5,567.1 980.7,572.1Q989.4,580.4 989.4,592.4L989.4,619.2Q989.4,650.2 958.5,647.8C925.7,645.2 906.9,643.1 860.0,640.0C813.1,636.9 749.8,633.9 708.0,631.6C666.2,629.3 633.7,627.1 609.0,626.0C584.3,624.9 594.8,625.0 560.0,625.0C525.2,625.0 454.5,626.2 400.0,626.0C345.5,625.8 298.0,624.8 247.0,624.2Q233.0,624.0 242.5,613.7Z" fill="#fff"/><path d="M474.0,398.5C492.7,397.7 501.0,396.6 530.0,396.0C559.0,395.4 613.6,394.9 638.0,395.5C662.4,396.1 663.7,397.3 676.5,399.4C689.3,401.5 702.1,405.3 715.0,408.0C727.9,410.7 740.9,412.4 753.7,415.8C766.5,419.2 776.6,423.4 792.0,428.4C807.4,433.4 831.0,441.2 845.8,445.8C860.5,450.4 864.8,451.2 880.5,456.1C896.2,461.0 902.4,463.2 913.4,466.7Q940.0,475.3 940.0,503.3L940.0,593.0Q940.0,628.0 905.1,624.9C890.1,623.6 898.7,624.5 860.0,621.0C821.3,617.5 757.7,610.2 708.0,607.0C658.3,603.8 613.3,603.1 562.0,602.0C510.7,600.9 451.7,600.8 400.0,600.5C348.3,600.2 322.7,600.4 284.0,600.3Q252.0,600.3 274.3,577.4L368.0,481.0L456.4,405.5Q464.0,399.0 474.0,398.5Z" fill="#fff"/><path d="M353.4,311.3L411.3,320.3Q439.0,324.6 461.4,341.4C474.3,351.0 484.9,358.8 500.1,370.3C515.3,381.8 520.7,385.8 530.2,393.6C539.7,401.4 550.2,409.9 556.9,417.0C563.6,424.1 562.1,424.2 564.7,427.9Q570.5,436.0 570.1,446.0L562.3,632.0Q561.5,652.0 541.5,650.7C521.0,649.3 512.9,648.8 480.0,646.5C447.1,644.2 409.0,640.4 364.0,638.0C319.0,635.6 265.3,634.2 216.0,632.2Q210.0,632.0 212.2,626.4L334.4,322.1Q339.6,309.1 353.4,311.3Z" fill="#fff"/><path d="M219.4,302.6L237.5,298.0Q240.4,297.3 243.2,298.4L256.0,303.3Q257.9,304.0 259.5,305.2L290.9,329.3L320.7,372.6Q321.8,374.2 322.6,376.0L368.9,487.7Q370.0,490.5 369.9,493.5L362.4,657.0Q362.2,661.0 358.2,660.5L252.0,647.4L165.0,637.1Q160.0,636.5 160.8,631.6L189.0,458.0L201.0,382.4L213.7,325.0L216.1,306.3Q216.5,303.3 219.4,302.6Z" fill="#fff"/><path d="M148.1,375.6L155.5,368.7Q157.0,367.3 159.0,367.3L172.2,367.3L195.0,378.0Q196.8,378.9 198.0,380.5L201.0,384.5L231.2,435.9L250.4,479.0Q251.2,480.8 251.2,482.8L252.0,642.5Q252.0,646.5 248.0,646.1L124.0,634.4Q120.0,634.0 120.4,630.0L146.4,379.0Q146.6,377.0 148.1,375.6Z" fill="#fff"/></mask><mask id="m42" maskUnits="userSpaceOnUse" x="0" y="0" width="1140" height="838"><path d="M494.7,364.1L527.3,337.3Q531.9,333.5 537.0,330.4C539.7,328.7 539.4,327.5 545.2,325.4C551.1,323.2 559.5,320.7 567.0,320.6C574.5,320.5 581.4,323.0 590.0,325.0C598.6,327.0 608.4,329.6 618.6,332.8C628.8,336.0 643.4,341.0 651.4,344.4C659.4,347.8 659.4,348.3 666.8,353.1C674.2,357.9 686.8,367.0 695.8,373.3C704.8,379.6 714.9,385.6 720.9,390.7C726.9,395.8 724.6,395.4 726.5,397.7Q731.5,404.0 731.4,412.0L727.9,612.0Q727.5,632.0 707.6,630.4C689.0,628.9 671.8,627.5 652.0,626.0C632.2,624.5 623.3,624.0 609.0,623.0L314.0,601.0Q300.0,600.0 304.9,586.9L330.0,520.0L412.0,434.0L494.7,364.1Z" fill="#fff"/><path d="M290.5,330.0C294.0,311.7 298.6,287.7 301.0,275.0C303.4,262.3 303.4,258.9 304.6,254.0C305.8,249.1 306.4,248.3 308.1,245.5C309.9,242.7 312.3,239.7 315.1,237.1C317.9,234.5 320.9,232.5 324.9,230.1C328.9,227.7 333.6,225.0 339.0,222.4C344.4,219.8 351.8,216.6 357.2,214.6C362.6,212.6 366.3,211.2 371.2,210.2C376.1,209.2 381.9,208.5 386.7,208.4C391.5,208.3 394.4,207.8 400.0,209.4C405.6,211.1 413.5,214.0 420.3,218.3C427.1,222.7 433.9,229.6 440.6,235.5C447.4,241.4 454.1,247.4 460.8,253.7C467.6,259.9 474.3,266.1 481.1,273.0C487.9,279.9 494.6,287.5 501.4,295.3C508.2,303.1 515.6,311.9 521.7,319.7C527.8,327.5 533.2,334.9 537.9,342.0C542.6,349.1 543.6,350.2 550.1,362.2C556.6,374.1 568.6,397.3 577.0,413.7C585.4,430.1 594.9,447.8 600.3,460.4C605.7,472.9 606.4,479.5 609.5,489.0L609.5,624.0Q609.5,656.0 577.6,653.9C518.4,649.9 463.2,645.3 400.0,642.0C336.8,638.7 290.7,638.1 236.0,636.2Q230.0,636.0 231.2,630.1L290.5,330.0Z" fill="#fff"/><path d="M184.2,330.8C193.1,328.9 199.7,327.4 210.9,325.1C222.1,322.8 227.8,320.1 236.8,320.2C245.8,320.3 255.4,323.1 265.0,326.0C274.6,328.9 284.8,333.4 294.4,337.7C304.0,342.0 311.6,345.1 322.5,351.8C333.4,358.5 344.8,364.2 360.0,378.0C375.2,391.8 397.9,417.0 413.7,434.8C429.5,452.6 441.2,468.3 455.0,485.0L458.0,488.5Q461.0,492.0 461.0,498.0L461.0,639.0Q461.0,657.0 443.1,655.3C417.1,652.9 399.8,650.8 365.0,648.0C330.2,645.2 284.6,642.8 252.0,640.5C219.4,638.2 199.7,636.4 173.5,634.3Q169.5,634.0 169.5,630.0L169.5,349.0Q169.5,334.0 184.2,330.8Z" fill="#fff"/><path d="M242.5,613.7L367.0,479.0L458.3,387.7Q464.0,382.0 471.1,378.3C474.1,376.7 474.0,375.6 480.0,373.6C486.0,371.7 488.3,372.0 500.0,370.3C511.7,368.6 535.5,364.6 550.0,363.6C564.5,362.6 575.6,363.6 587.0,364.2C598.4,364.8 606.9,365.5 618.6,367.5C630.3,369.5 644.1,372.8 657.0,376.0C669.9,379.2 684.7,383.9 696.0,386.8C707.3,389.7 709.0,386.7 725.0,393.6C741.0,400.5 776.6,420.4 792.0,428.4C807.4,436.4 807.9,436.8 817.4,441.8C826.9,446.8 838.5,452.1 849.0,458.4C859.5,464.7 870.0,472.1 880.5,479.7C891.0,487.3 902.1,495.3 912.0,504.2C921.9,513.1 931.2,524.2 940.0,533.0C948.8,541.8 956.8,549.1 965.0,557.0C973.2,564.9 975.5,567.1 980.7,572.1Q989.4,580.4 989.4,592.4L989.4,619.2Q989.4,650.2 958.5,647.8C925.7,645.2 906.9,643.1 860.0,640.0C813.1,636.9 749.8,633.9 708.0,631.6C666.2,629.3 633.7,627.1 609.0,626.0C584.3,624.9 594.8,625.0 560.0,625.0C525.2,625.0 454.5,626.2 400.0,626.0C345.5,625.8 298.0,624.8 247.0,624.2Q233.0,624.0 242.5,613.7Z" fill="#fff"/><path d="M474.0,398.5C492.7,397.7 501.0,396.6 530.0,396.0C559.0,395.4 613.6,394.9 638.0,395.5C662.4,396.1 663.7,397.3 676.5,399.4C689.3,401.5 702.1,405.3 715.0,408.0C727.9,410.7 740.9,412.4 753.7,415.8C766.5,419.2 776.6,423.4 792.0,428.4C807.4,433.4 831.0,441.2 845.8,445.8C860.5,450.4 864.8,451.2 880.5,456.1C896.2,461.0 902.4,463.2 913.4,466.7Q940.0,475.3 940.0,503.3L940.0,593.0Q940.0,628.0 905.1,624.9C890.1,623.6 898.7,624.5 860.0,621.0C821.3,617.5 757.7,610.2 708.0,607.0C658.3,603.8 613.3,603.1 562.0,602.0C510.7,600.9 451.7,600.8 400.0,600.5C348.3,600.2 322.7,600.4 284.0,600.3Q252.0,600.3 274.3,577.4L368.0,481.0L456.4,405.5Q464.0,399.0 474.0,398.5Z" fill="#fff"/><path d="M353.4,311.3L411.3,320.3Q439.0,324.6 461.4,341.4C474.3,351.0 484.9,358.8 500.1,370.3C515.3,381.8 520.7,385.8 530.2,393.6C539.7,401.4 550.2,409.9 556.9,417.0C563.6,424.1 562.1,424.2 564.7,427.9Q570.5,436.0 570.1,446.0L562.3,632.0Q561.5,652.0 541.5,650.7C521.0,649.3 512.9,648.8 480.0,646.5C447.1,644.2 409.0,640.4 364.0,638.0C319.0,635.6 265.3,634.2 216.0,632.2Q210.0,632.0 212.2,626.4L334.4,322.1Q339.6,309.1 353.4,311.3Z" fill="#fff"/><path d="M219.4,302.6L237.5,298.0Q240.4,297.3 243.2,298.4L256.0,303.3Q257.9,304.0 259.5,305.2L290.9,329.3L320.7,372.6Q321.8,374.2 322.6,376.0L368.9,487.7Q370.0,490.5 369.9,493.5L362.4,657.0Q362.2,661.0 358.2,660.5L252.0,647.4L165.0,637.1Q160.0,636.5 160.8,631.6L189.0,458.0L201.0,382.4L213.7,325.0L216.1,306.3Q216.5,303.3 219.4,302.6Z" fill="#fff"/><path d="M148.1,375.6L155.5,368.7Q157.0,367.3 159.0,367.3L172.2,367.3L195.0,378.0Q196.8,378.9 198.0,380.5L201.0,384.5L231.2,435.9L250.4,479.0Q251.2,480.8 251.2,482.8L252.0,642.5Q252.0,646.5 248.0,646.1L124.0,634.4Q120.0,634.0 120.4,630.0L146.4,379.0Q146.6,377.0 148.1,375.6Z" fill="#fff"/><path d="M141.8,396.4L145.4,391.4Q146.6,389.8 148.6,389.7L171.3,389.1Q174.3,389.0 176.5,391.0L191.0,404.4L216.8,440.7L240.9,492.4Q241.7,494.2 241.7,496.2L241.3,655.0Q241.3,660.0 236.4,659.3L125.7,642.6Q121.7,642.0 122.0,638.0L140.4,400.0Q140.6,398.0 141.8,396.4Z" fill="#fff"/></mask></defs><path d="M494.7,364.1L527.3,337.3Q531.9,333.5 537.0,330.4C539.7,328.7 539.4,327.5 545.2,325.4C551.1,323.2 559.5,320.7 567.0,320.6C574.5,320.5 581.4,323.0 590.0,325.0C598.6,327.0 608.4,329.6 618.6,332.8C628.8,336.0 643.4,341.0 651.4,344.4C659.4,347.8 659.4,348.3 666.8,353.1C674.2,357.9 686.8,367.0 695.8,373.3C704.8,379.6 714.9,385.6 720.9,390.7C726.9,395.8 724.6,395.4 726.5,397.7Q731.5,404.0 731.4,412.0L727.9,612.0Q727.5,632.0 707.6,630.4C689.0,628.9 671.8,627.5 652.0,626.0C632.2,624.5 623.3,624.0 609.0,623.0L314.0,601.0Q300.0,600.0 304.9,586.9L330.0,520.0L412.0,434.0L494.7,364.1Z" fill="#02457d" fill-opacity="0.8"/><path d="M290.5,330.0C294.0,311.7 298.6,287.7 301.0,275.0C303.4,262.3 303.4,258.9 304.6,254.0C305.8,249.1 306.4,248.3 308.1,245.5C309.9,242.7 312.3,239.7 315.1,237.1C317.9,234.5 320.9,232.5 324.9,230.1C328.9,227.7 333.6,225.0 339.0,222.4C344.4,219.8 351.8,216.6 357.2,214.6C362.6,212.6 366.3,211.2 371.2,210.2C376.1,209.2 381.9,208.5 386.7,208.4C391.5,208.3 394.4,207.8 400.0,209.4C405.6,211.1 413.5,214.0 420.3,218.3C427.1,222.7 433.9,229.6 440.6,235.5C447.4,241.4 454.1,247.4 460.8,253.7C467.6,259.9 474.3,266.1 481.1,273.0C487.9,279.9 494.6,287.5 501.4,295.3C508.2,303.1 515.6,311.9 521.7,319.7C527.8,327.5 533.2,334.9 537.9,342.0C542.6,349.1 543.6,350.2 550.1,362.2C556.6,374.1 568.6,397.3 577.0,413.7C585.4,430.1 594.9,447.8 600.3,460.4C605.7,472.9 606.4,479.5 609.5,489.0L609.5,624.0Q609.5,656.0 577.6,653.9C518.4,649.9 463.2,645.3 400.0,642.0C336.8,638.7 290.7,638.1 236.0,636.2Q230.0,636.0 231.2,630.1L290.5,330.0Z" fill="#02457d" fill-opacity="0.8"/><path d="M290.5,330.0C294.0,311.7 298.6,287.7 301.0,275.0C303.4,262.3 303.4,258.9 304.6,254.0C305.8,249.1 306.4,248.3 308.1,245.5C309.9,242.7 312.3,239.7 315.1,237.1C317.9,234.5 320.9,232.5 324.9,230.1C328.9,227.7 333.6,225.0 339.0,222.4C344.4,219.8 351.8,216.6 357.2,214.6C362.6,212.6 366.3,211.2 371.2,210.2C376.1,209.2 381.9,208.5 386.7,208.4C391.5,208.3 394.4,207.8 400.0,209.4C405.6,211.1 413.5,214.0 420.3,218.3C427.1,222.7 433.9,229.6 440.6,235.5C447.4,241.4 454.1,247.4 460.8,253.7C467.6,259.9 474.3,266.1 481.1,273.0C487.9,279.9 494.6,287.5 501.4,295.3C508.2,303.1 515.6,311.9 521.7,319.7C527.8,327.5 533.2,334.9 537.9,342.0C542.6,349.1 543.6,350.2 550.1,362.2C556.6,374.1 568.6,397.3 577.0,413.7C585.4,430.1 594.9,447.8 600.3,460.4C605.7,472.9 606.4,479.5 609.5,489.0L609.5,624.0Q609.5,656.0 577.6,653.9C518.4,649.9 463.2,645.3 400.0,642.0C336.8,638.7 290.7,638.1 236.0,636.2Q230.0,636.0 231.2,630.1L290.5,330.0Z" fill="none" stroke="#edf0f5" stroke-width="1.4" stroke-linejoin="round" mask="url(#m742)"/><path d="M184.2,330.8C193.1,328.9 199.7,327.4 210.9,325.1C222.1,322.8 227.8,320.1 236.8,320.2C245.8,320.3 255.4,323.1 265.0,326.0C274.6,328.9 284.8,333.4 294.4,337.7C304.0,342.0 311.6,345.1 322.5,351.8C333.4,358.5 344.8,364.2 360.0,378.0C375.2,391.8 397.9,417.0 413.7,434.8C429.5,452.6 441.2,468.3 455.0,485.0L458.0,488.5Q461.0,492.0 461.0,498.0L461.0,639.0Q461.0,657.0 443.1,655.3C417.1,652.9 399.8,650.8 365.0,648.0C330.2,645.2 284.6,642.8 252.0,640.5C219.4,638.2 199.7,636.4 173.5,634.3Q169.5,634.0 169.5,630.0L169.5,349.0Q169.5,334.0 184.2,330.8Z" fill="#02457d" fill-opacity="0.8"/><path d="M184.2,330.8C193.1,328.9 199.7,327.4 210.9,325.1C222.1,322.8 227.8,320.1 236.8,320.2C245.8,320.3 255.4,323.1 265.0,326.0C274.6,328.9 284.8,333.4 294.4,337.7C304.0,342.0 311.6,345.1 322.5,351.8C333.4,358.5 344.8,364.2 360.0,378.0C375.2,391.8 397.9,417.0 413.7,434.8C429.5,452.6 441.2,468.3 455.0,485.0L458.0,488.5Q461.0,492.0 461.0,498.0L461.0,639.0Q461.0,657.0 443.1,655.3C417.1,652.9 399.8,650.8 365.0,648.0C330.2,645.2 284.6,642.8 252.0,640.5C219.4,638.2 199.7,636.4 173.5,634.3Q169.5,634.0 169.5,630.0L169.5,349.0Q169.5,334.0 184.2,330.8Z" fill="none" stroke="#edf0f5" stroke-width="1.4" stroke-linejoin="round" mask="url(#m850)"/><path d="M242.5,613.7L367.0,479.0L458.3,387.7Q464.0,382.0 471.1,378.3C474.1,376.7 474.0,375.6 480.0,373.6C486.0,371.7 488.3,372.0 500.0,370.3C511.7,368.6 535.5,364.6 550.0,363.6C564.5,362.6 575.6,363.6 587.0,364.2C598.4,364.8 606.9,365.5 618.6,367.5C630.3,369.5 644.1,372.8 657.0,376.0C669.9,379.2 684.7,383.9 696.0,386.8C707.3,389.7 709.0,386.7 725.0,393.6C741.0,400.5 776.6,420.4 792.0,428.4C807.4,436.4 807.9,436.8 817.4,441.8C826.9,446.8 838.5,452.1 849.0,458.4C859.5,464.7 870.0,472.1 880.5,479.7C891.0,487.3 902.1,495.3 912.0,504.2C921.9,513.1 931.2,524.2 940.0,533.0C948.8,541.8 956.8,549.1 965.0,557.0C973.2,564.9 975.5,567.1 980.7,572.1Q989.4,580.4 989.4,592.4L989.4,619.2Q989.4,650.2 958.5,647.8C925.7,645.2 906.9,643.1 860.0,640.0C813.1,636.9 749.8,633.9 708.0,631.6C666.2,629.3 633.7,627.1 609.0,626.0C584.3,624.9 594.8,625.0 560.0,625.0C525.2,625.0 454.5,626.2 400.0,626.0C345.5,625.8 298.0,624.8 247.0,624.2Q233.0,624.0 242.5,613.7Z" fill="#02457d" fill-opacity="0.8"/><path d="M242.5,613.7L367.0,479.0L458.3,387.7Q464.0,382.0 471.1,378.3C474.1,376.7 474.0,375.6 480.0,373.6C486.0,371.7 488.3,372.0 500.0,370.3C511.7,368.6 535.5,364.6 550.0,363.6C564.5,362.6 575.6,363.6 587.0,364.2C598.4,364.8 606.9,365.5 618.6,367.5C630.3,369.5 644.1,372.8 657.0,376.0C669.9,379.2 684.7,383.9 696.0,386.8C707.3,389.7 709.0,386.7 725.0,393.6C741.0,400.5 776.6,420.4 792.0,428.4C807.4,436.4 807.9,436.8 817.4,441.8C826.9,446.8 838.5,452.1 849.0,458.4C859.5,464.7 870.0,472.1 880.5,479.7C891.0,487.3 902.1,495.3 912.0,504.2C921.9,513.1 931.2,524.2 940.0,533.0C948.8,541.8 956.8,549.1 965.0,557.0C973.2,564.9 975.5,567.1 980.7,572.1Q989.4,580.4 989.4,592.4L989.4,619.2Q989.4,650.2 958.5,647.8C925.7,645.2 906.9,643.1 860.0,640.0C813.1,636.9 749.8,633.9 708.0,631.6C666.2,629.3 633.7,627.1 609.0,626.0C584.3,624.9 594.8,625.0 560.0,625.0C525.2,625.0 454.5,626.2 400.0,626.0C345.5,625.8 298.0,624.8 247.0,624.2Q233.0,624.0 242.5,613.7Z" fill="none" stroke="#edf0f5" stroke-width="1.4" stroke-linejoin="round" mask="url(#m1260)"/><path d="M474.0,398.5C492.7,397.7 501.0,396.6 530.0,396.0C559.0,395.4 613.6,394.9 638.0,395.5C662.4,396.1 663.7,397.3 676.5,399.4C689.3,401.5 702.1,405.3 715.0,408.0C727.9,410.7 740.9,412.4 753.7,415.8C766.5,419.2 776.6,423.4 792.0,428.4C807.4,433.4 831.0,441.2 845.8,445.8C860.5,450.4 864.8,451.2 880.5,456.1C896.2,461.0 902.4,463.2 913.4,466.7Q940.0,475.3 940.0,503.3L940.0,593.0Q940.0,628.0 905.1,624.9C890.1,623.6 898.7,624.5 860.0,621.0C821.3,617.5 757.7,610.2 708.0,607.0C658.3,603.8 613.3,603.1 562.0,602.0C510.7,600.9 451.7,600.8 400.0,600.5C348.3,600.2 322.7,600.4 284.0,600.3Q252.0,600.3 274.3,577.4L368.0,481.0L456.4,405.5Q464.0,399.0 474.0,398.5Z" fill="#02457d" fill-opacity="0.8"/><path d="M474.0,398.5C492.7,397.7 501.0,396.6 530.0,396.0C559.0,395.4 613.6,394.9 638.0,395.5C662.4,396.1 663.7,397.3 676.5,399.4C689.3,401.5 702.1,405.3 715.0,408.0C727.9,410.7 740.9,412.4 753.7,415.8C766.5,419.2 776.6,423.4 792.0,428.4C807.4,433.4 831.0,441.2 845.8,445.8C860.5,450.4 864.8,451.2 880.5,456.1C896.2,461.0 902.4,463.2 913.4,466.7Q940.0,475.3 940.0,503.3L940.0,593.0Q940.0,628.0 905.1,624.9C890.1,623.6 898.7,624.5 860.0,621.0C821.3,617.5 757.7,610.2 708.0,607.0C658.3,603.8 613.3,603.1 562.0,602.0C510.7,600.9 451.7,600.8 400.0,600.5C348.3,600.2 322.7,600.4 284.0,600.3Q252.0,600.3 274.3,577.4L368.0,481.0L456.4,405.5Q464.0,399.0 474.0,398.5Z" fill="none" stroke="#edf0f5" stroke-width="1.4" stroke-linejoin="round" mask="url(#m751)"/><path d="M353.4,311.3L411.3,320.3Q439.0,324.6 461.4,341.4C474.3,351.0 484.9,358.8 500.1,370.3C515.3,381.8 520.7,385.8 530.2,393.6C539.7,401.4 550.2,409.9 556.9,417.0C563.6,424.1 562.1,424.2 564.7,427.9Q570.5,436.0 570.1,446.0L562.3,632.0Q561.5,652.0 541.5,650.7C521.0,649.3 512.9,648.8 480.0,646.5C447.1,644.2 409.0,640.4 364.0,638.0C319.0,635.6 265.3,634.2 216.0,632.2Q210.0,632.0 212.2,626.4L334.4,322.1Q339.6,309.1 353.4,311.3Z" fill="#02457d" fill-opacity="0.8"/><path d="M353.4,311.3L411.3,320.3Q439.0,324.6 461.4,341.4C474.3,351.0 484.9,358.8 500.1,370.3C515.3,381.8 520.7,385.8 530.2,393.6C539.7,401.4 550.2,409.9 556.9,417.0C563.6,424.1 562.1,424.2 564.7,427.9Q570.5,436.0 570.1,446.0L562.3,632.0Q561.5,652.0 541.5,650.7C521.0,649.3 512.9,648.8 480.0,646.5C447.1,644.2 409.0,640.4 364.0,638.0C319.0,635.6 265.3,634.2 216.0,632.2Q210.0,632.0 212.2,626.4L334.4,322.1Q339.6,309.1 353.4,311.3Z" fill="none" stroke="#edf0f5" stroke-width="1.4" stroke-linejoin="round" mask="url(#m741)"/><path d="M219.4,302.6L237.5,298.0Q240.4,297.3 243.2,298.4L256.0,303.3Q257.9,304.0 259.5,305.2L290.9,329.3L320.7,372.6Q321.8,374.2 322.6,376.0L368.9,487.7Q370.0,490.5 369.9,493.5L362.4,657.0Q362.2,661.0 358.2,660.5L252.0,647.4L165.0,637.1Q160.0,636.5 160.8,631.6L189.0,458.0L201.0,382.4L213.7,325.0L216.1,306.3Q216.5,303.3 219.4,302.6Z" fill="#02457d" fill-opacity="0.8"/><path d="M219.4,302.6L237.5,298.0Q240.4,297.3 243.2,298.4L256.0,303.3Q257.9,304.0 259.5,305.2L290.9,329.3L320.7,372.6Q321.8,374.2 322.6,376.0L368.9,487.7Q370.0,490.5 369.9,493.5L362.4,657.0Q362.2,661.0 358.2,660.5L252.0,647.4L165.0,637.1Q160.0,636.5 160.8,631.6L189.0,458.0L201.0,382.4L213.7,325.0L216.1,306.3Q216.5,303.3 219.4,302.6Z" fill="none" stroke="#edf0f5" stroke-width="1.4" stroke-linejoin="round" mask="url(#m732)"/><path d="M148.1,375.6L155.5,368.7Q157.0,367.3 159.0,367.3L172.2,367.3L195.0,378.0Q196.8,378.9 198.0,380.5L201.0,384.5L231.2,435.9L250.4,479.0Q251.2,480.8 251.2,482.8L252.0,642.5Q252.0,646.5 248.0,646.1L124.0,634.4Q120.0,634.0 120.4,630.0L146.4,379.0Q146.6,377.0 148.1,375.6Z" fill="#02457d" fill-opacity="0.8"/><path d="M148.1,375.6L155.5,368.7Q157.0,367.3 159.0,367.3L172.2,367.3L195.0,378.0Q196.8,378.9 198.0,380.5L201.0,384.5L231.2,435.9L250.4,479.0Q251.2,480.8 251.2,482.8L252.0,642.5Q252.0,646.5 248.0,646.1L124.0,634.4Q120.0,634.0 120.4,630.0L146.4,379.0Q146.6,377.0 148.1,375.6Z" fill="none" stroke="#edf0f5" stroke-width="1.4" stroke-linejoin="round" mask="url(#m550)"/><path d="M141.8,396.4L145.4,391.4Q146.6,389.8 148.6,389.7L171.3,389.1Q174.3,389.0 176.5,391.0L191.0,404.4L216.8,440.7L240.9,492.4Q241.7,494.2 241.7,496.2L241.3,655.0Q241.3,660.0 236.4,659.3L125.7,642.6Q121.7,642.0 122.0,638.0L140.4,400.0Q140.6,398.0 141.8,396.4Z" fill="#02457d" fill-opacity="0.8"/><path d="M141.8,396.4L145.4,391.4Q146.6,389.8 148.6,389.7L171.3,389.1Q174.3,389.0 176.5,391.0L191.0,404.4L216.8,440.7L240.9,492.4Q241.7,494.2 241.7,496.2L241.3,655.0Q241.3,660.0 236.4,659.3L125.7,642.6Q121.7,642.0 122.0,638.0L140.4,400.0Q140.6,398.0 141.8,396.4Z" fill="none" stroke="#edf0f5" stroke-width="1.4" stroke-linejoin="round" mask="url(#m510)"/><path d="M151.8,427.2L153.4,426.3L170.5,428.4Q172.5,428.6 174.2,429.6L192.2,439.7Q193.9,440.7 195.3,442.1L214.5,462.2Q215.9,463.6 217.0,465.3L232.4,488.8Q234.0,491.3 234.8,494.2L235.5,497.0L235.4,645.0Q235.4,651.0 229.4,650.3L111.9,636.7L110.2,634.4Q108.5,632.0 109.3,628.1L149.8,430.2Q150.2,428.2 151.8,427.2Z" fill="#02457d" fill-opacity="0.8"/><path d="M151.8,427.2L153.4,426.3L170.5,428.4Q172.5,428.6 174.2,429.6L192.2,439.7Q193.9,440.7 195.3,442.1L214.5,462.2Q215.9,463.6 217.0,465.3L232.4,488.8Q234.0,491.3 234.8,494.2L235.5,497.0L235.4,645.0Q235.4,651.0 229.4,650.3L111.9,636.7L110.2,634.4Q108.5,632.0 109.3,628.1L149.8,430.2Q150.2,428.2 151.8,427.2Z" fill="none" stroke="#edf0f5" stroke-width="1.4" stroke-linejoin="round" mask="url(#m42)"/><text x="203.65" y="640.00" font-size="17.2" fill="#ffffff" stroke="#0b4784" stroke-width="0.25" textLength="20.96" lengthAdjust="spacingAndGlyphs">42</text><text x="146.92" y="414.90" font-size="17.2" fill="#ffffff" stroke="#0b4784" stroke-width="0.25" textLength="27.34" lengthAdjust="spacingAndGlyphs">510</text><text x="154.11" y="386.60" font-size="17.2" fill="#ffffff" stroke="#0b4784" stroke-width="0.25" textLength="31.95" lengthAdjust="spacingAndGlyphs">550</text><text x="172.76" y="356.00" font-size="17.2" fill="#ffffff" stroke="#346a9a" stroke-width="0.25" textLength="32.00" lengthAdjust="spacingAndGlyphs">850</text><text x="323.95" y="650.60" font-size="17.2" fill="#ffffff" stroke="#0b4784" stroke-width="0.25" textLength="29.27" lengthAdjust="spacingAndGlyphs">732</text><text x="334.37" y="246.60" font-size="17.2" fill="#ffffff" stroke="#346a9a" stroke-width="0.25" textLength="28.73" lengthAdjust="spacingAndGlyphs">742</text><text x="516.18" y="631.20" font-size="17.2" fill="#ffffff" stroke="#0b4784" stroke-width="0.25" textLength="25.39" lengthAdjust="spacingAndGlyphs">741</text><text x="554.55" y="345.30" font-size="17.2" fill="#ffffff" stroke="#346a9a" stroke-width="0.25" textLength="32.32" lengthAdjust="spacingAndGlyphs">870</text><text x="550.47" y="388.20" font-size="17.2" fill="#ffffff" stroke="#0b4784" stroke-width="0.25" textLength="38.75" lengthAdjust="spacingAndGlyphs">1260</text><text x="881.67" y="596.00" font-size="17.2" fill="#ffffff" stroke="#0b4784" stroke-width="0.25" textLength="25.60" lengthAdjust="spacingAndGlyphs">751</text><text x="-0.15" y="28.40" font-size="34.4" fill="#1e1e1e" stroke="#fff" stroke-width="0.45" textLength="172.80" lengthAdjust="spacingAndGlyphs">Multistage</text><text x="182.36" y="28.40" font-size="34.4" fill="#1e1e1e" stroke="#fff" stroke-width="0.45" textLength="184.99" lengthAdjust="spacingAndGlyphs">Centrifugal</text><text x="377.34" y="28.40" font-size="34.4" fill="#1e1e1e" stroke="#fff" stroke-width="0.45" textLength="130.95" lengthAdjust="spacingAndGlyphs">Blowers</text><text x="545.08" y="28.40" font-size="34.4" fill="#1e1e1e" stroke="#fff" stroke-width="0.45" textLength="181.82" lengthAdjust="spacingAndGlyphs">Exhausters</text><text x="0.46" y="60.80" font-size="29.5" fill="#0a3d7c" stroke="#fff" stroke-width="0.35" textLength="114.76" lengthAdjust="spacingAndGlyphs">Medium</text><text x="123.59" y="60.80" font-size="29.5" fill="#0a3d7c" stroke="#fff" stroke-width="0.35" textLength="70.07" lengthAdjust="spacingAndGlyphs">Flow</text><text x="201.66" y="60.80" font-size="29.5" fill="#0a3d7c" stroke="#fff" stroke-width="0.35" textLength="104.29" lengthAdjust="spacingAndGlyphs">Models</text><text x="332.05" y="60.80" font-size="29.5" fill="#1e1e1e" stroke="#fff" stroke-width="0.35" textLength="32.78" lengthAdjust="spacingAndGlyphs">5”</text><text x="372.62" y="60.80" font-size="29.5" fill="#1e1e1e" stroke="#fff" stroke-width="0.35" textLength="28.16" lengthAdjust="spacingAndGlyphs">to</text><text x="407.56" y="60.80" font-size="29.5" fill="#1e1e1e" stroke="#fff" stroke-width="0.35" textLength="43.69" lengthAdjust="spacingAndGlyphs">12”</text><text x="459.53" y="60.80" font-size="29.5" fill="#0a3d7c" stroke="#fff" stroke-width="0.35" textLength="76.22" lengthAdjust="spacingAndGlyphs">(20.3</text><text x="545.19" y="60.80" font-size="29.5" fill="#0a3d7c" stroke="#fff" stroke-width="0.35" textLength="29.66" lengthAdjust="spacingAndGlyphs">to</text><text x="583.61" y="60.80" font-size="29.5" fill="#0a3d7c" stroke="#fff" stroke-width="0.35" textLength="63.32" lengthAdjust="spacingAndGlyphs">30.5</text><text x="655.56" y="60.80" font-size="29.5" fill="#0a3d7c" stroke="#fff" stroke-width="0.35" textLength="57.30" lengthAdjust="spacingAndGlyphs">cm)</text><line x1="520.2" y1="31.6" x2="534.6" y2="3" stroke="#1e1e1e" stroke-width="2.1"/><rect x="318.3" y="38.3" width="1.8" height="25.9" fill="#1e1e1e"/><text x="68.47" y="626.20" font-size="15.8" fill="#7d7d7d" stroke="#fff" stroke-width="0.2" textLength="10.39" lengthAdjust="spacingAndGlyphs">2</text><text x="68.39" y="582.10" font-size="15.8" fill="#7d7d7d" stroke="#fff" stroke-width="0.2" textLength="10.02" lengthAdjust="spacingAndGlyphs">4</text><text x="67.82" y="538.00" font-size="15.8" fill="#7d7d7d" stroke="#fff" stroke-width="0.2" textLength="10.94" lengthAdjust="spacingAndGlyphs">6</text><text x="67.98" y="493.90" font-size="15.8" fill="#7d7d7d" stroke="#fff" stroke-width="0.2" textLength="10.77" lengthAdjust="spacingAndGlyphs">8</text><text x="60.48" y="449.80" font-size="15.8" fill="#7d7d7d" stroke="#fff" stroke-width="0.2" textLength="18.07" lengthAdjust="spacingAndGlyphs">10</text><text x="62.19" y="405.70" font-size="15.8" fill="#7d7d7d" stroke="#fff" stroke-width="0.2" textLength="16.49" lengthAdjust="spacingAndGlyphs">12</text><text x="60.49" y="361.60" font-size="15.8" fill="#7d7d7d" stroke="#fff" stroke-width="0.2" textLength="17.89" lengthAdjust="spacingAndGlyphs">14</text><text x="60.80" y="317.50" font-size="15.8" fill="#7d7d7d" stroke="#fff" stroke-width="0.2" textLength="17.82" lengthAdjust="spacingAndGlyphs">16</text><text x="61.44" y="273.40" font-size="15.8" fill="#7d7d7d" stroke="#fff" stroke-width="0.2" textLength="17.15" lengthAdjust="spacingAndGlyphs">18</text><text x="57.66" y="229.30" font-size="15.8" fill="#7d7d7d" stroke="#fff" stroke-width="0.2" textLength="21.00" lengthAdjust="spacingAndGlyphs">20</text><text x="59.32" y="185.20" font-size="15.8" fill="#7d7d7d" stroke="#fff" stroke-width="0.2" textLength="19.49" lengthAdjust="spacingAndGlyphs">22</text><text x="57.98" y="141.10" font-size="15.8" fill="#7d7d7d" stroke="#fff" stroke-width="0.2" textLength="20.47" lengthAdjust="spacingAndGlyphs">24</text><text x="1110.18" y="626.40" font-size="15.8" fill="#174a88" stroke="#fff" stroke-width="0.2" textLength="18.39" lengthAdjust="spacingAndGlyphs">.13</text><text x="1109.76" y="582.30" font-size="15.8" fill="#174a88" stroke="#fff" stroke-width="0.2" textLength="24.59" lengthAdjust="spacingAndGlyphs">.28</text><text x="1110.05" y="538.20" font-size="15.8" fill="#174a88" stroke="#fff" stroke-width="0.2" textLength="20.24" lengthAdjust="spacingAndGlyphs">.41</text><text x="1109.77" y="494.10" font-size="15.8" fill="#174a88" stroke="#fff" stroke-width="0.2" textLength="24.54" lengthAdjust="spacingAndGlyphs">.55</text><text x="1109.76" y="450.00" font-size="15.8" fill="#174a88" stroke="#fff" stroke-width="0.2" textLength="24.64" lengthAdjust="spacingAndGlyphs">.69</text><text x="1109.75" y="405.90" font-size="15.8" fill="#174a88" stroke="#fff" stroke-width="0.2" textLength="24.74" lengthAdjust="spacingAndGlyphs">.82</text><text x="1109.82" y="361.80" font-size="15.8" fill="#174a88" stroke="#fff" stroke-width="0.2" textLength="23.74" lengthAdjust="spacingAndGlyphs">.97</text><text x="1109.05" y="317.70" font-size="15.8" fill="#174a88" stroke="#fff" stroke-width="0.2" textLength="27.30" lengthAdjust="spacingAndGlyphs">1.10</text><text x="1108.93" y="273.60" font-size="15.8" fill="#174a88" stroke="#fff" stroke-width="0.2" textLength="30.42" lengthAdjust="spacingAndGlyphs">1.24</text><text x="1108.91" y="229.50" font-size="15.8" fill="#174a88" stroke="#fff" stroke-width="0.2" textLength="30.80" lengthAdjust="spacingAndGlyphs">1.37</text><text x="1109.08" y="185.40" font-size="15.8" fill="#174a88" stroke="#fff" stroke-width="0.2" textLength="26.38" lengthAdjust="spacingAndGlyphs">1.51</text><text x="1108.90" y="141.30" font-size="15.8" fill="#174a88" stroke="#fff" stroke-width="0.2" textLength="31.27" lengthAdjust="spacingAndGlyphs">1.65</text><text x="87.90" y="695.20" font-size="15.8" fill="#7d7d7d" stroke="#fff" stroke-width="0.2" textLength="11.18" lengthAdjust="spacingAndGlyphs">0</text><text x="127.50" y="695.20" font-size="15.8" fill="#7d7d7d" stroke="#fff" stroke-width="0.2" textLength="33.37" lengthAdjust="spacingAndGlyphs">500</text><text x="183.82" y="695.20" font-size="15.8" fill="#7d7d7d" stroke="#fff" stroke-width="0.2" textLength="40.91" lengthAdjust="spacingAndGlyphs">1000</text><text x="239.95" y="695.20" font-size="15.8" fill="#7d7d7d" stroke="#fff" stroke-width="0.2" textLength="40.17" lengthAdjust="spacingAndGlyphs">1500</text><text x="295.69" y="695.20" font-size="15.8" fill="#7d7d7d" stroke="#fff" stroke-width="0.2" textLength="44.81" lengthAdjust="spacingAndGlyphs">2000</text><text x="351.91" y="695.20" font-size="15.8" fill="#7d7d7d" stroke="#fff" stroke-width="0.2" textLength="43.97" lengthAdjust="spacingAndGlyphs">2500</text><text x="409.64" y="695.20" font-size="15.8" fill="#7d7d7d" stroke="#fff" stroke-width="0.2" textLength="44.96" lengthAdjust="spacingAndGlyphs">3000</text><text x="468.08" y="695.20" font-size="15.8" fill="#7d7d7d" stroke="#fff" stroke-width="0.2" textLength="42.99" lengthAdjust="spacingAndGlyphs">3500</text><text x="523.83" y="695.20" font-size="15.8" fill="#7d7d7d" stroke="#fff" stroke-width="0.2" textLength="46.09" lengthAdjust="spacingAndGlyphs">4000</text><text x="578.25" y="695.20" font-size="15.8" fill="#7d7d7d" stroke="#fff" stroke-width="0.2" textLength="44.55" lengthAdjust="spacingAndGlyphs">4500</text><text x="636.49" y="695.20" font-size="15.8" fill="#7d7d7d" stroke="#fff" stroke-width="0.2" textLength="44.91" lengthAdjust="spacingAndGlyphs">5000</text><text x="692.62" y="695.20" font-size="15.8" fill="#7d7d7d" stroke="#fff" stroke-width="0.2" textLength="43.15" lengthAdjust="spacingAndGlyphs">5500</text><text x="747.87" y="695.20" font-size="15.8" fill="#7d7d7d" stroke="#fff" stroke-width="0.2" textLength="45.85" lengthAdjust="spacingAndGlyphs">6000</text><text x="804.68" y="695.20" font-size="15.8" fill="#7d7d7d" stroke="#fff" stroke-width="0.2" textLength="45.22" lengthAdjust="spacingAndGlyphs">6500</text><text x="862.56" y="695.20" font-size="15.8" fill="#7d7d7d" stroke="#fff" stroke-width="0.2" textLength="44.13" lengthAdjust="spacingAndGlyphs">7000</text><text x="918.59" y="695.20" font-size="15.8" fill="#7d7d7d" stroke="#fff" stroke-width="0.2" textLength="42.67" lengthAdjust="spacingAndGlyphs">7500</text><text x="973.84" y="695.20" font-size="15.8" fill="#7d7d7d" stroke="#fff" stroke-width="0.2" textLength="45.27" lengthAdjust="spacingAndGlyphs">8000</text><text x="1029.85" y="695.20" font-size="15.8" fill="#7d7d7d" stroke="#fff" stroke-width="0.2" textLength="44.34" lengthAdjust="spacingAndGlyphs">8500</text><text x="1086.72" y="695.20" font-size="15.8" fill="#7d7d7d" stroke="#fff" stroke-width="0.2" textLength="45.79" lengthAdjust="spacingAndGlyphs">9000</text><text x="58.89" y="719.70" font-size="19.9" fill="#1e1e1e" stroke="#fff" stroke-width="0.2" textLength="73.15" lengthAdjust="spacingAndGlyphs">Volume</text><text x="136.99" y="719.70" font-size="19.9" fill="#1e1e1e" stroke="#fff" stroke-width="0.2" textLength="46.44" lengthAdjust="spacingAndGlyphs">Flow</text><text x="190.65" y="719.70" font-size="19.9" fill="#1e1e1e" stroke="#fff" stroke-width="0.2" textLength="44.70" lengthAdjust="spacingAndGlyphs">Rate</text><text x="240.41" y="719.70" font-size="19.9" fill="#1e1e1e" stroke="#fff" stroke-width="0.2" textLength="8.10" lengthAdjust="spacingAndGlyphs">-</text><text x="255.27" y="719.70" font-size="19.9" fill="#7d7d7d" stroke="#fff" stroke-width="0.2" textLength="44.65" lengthAdjust="spacingAndGlyphs">CFM</text><text x="128.36" y="748.20" font-size="17.8" fill="#174a88" stroke="#fff" stroke-width="0.2" textLength="39.85" lengthAdjust="spacingAndGlyphs">1700</text><text x="242.57" y="748.20" font-size="17.8" fill="#174a88" stroke="#fff" stroke-width="0.2" textLength="43.20" lengthAdjust="spacingAndGlyphs">3400</text><text x="354.92" y="748.20" font-size="17.8" fill="#174a88" stroke="#fff" stroke-width="0.2" textLength="43.19" lengthAdjust="spacingAndGlyphs">5097</text><text x="467.78" y="748.20" font-size="17.8" fill="#174a88" stroke="#fff" stroke-width="0.2" textLength="41.15" lengthAdjust="spacingAndGlyphs">6796</text><text x="579.37" y="748.20" font-size="17.8" fill="#174a88" stroke="#fff" stroke-width="0.2" textLength="43.56" lengthAdjust="spacingAndGlyphs">8495</text><text x="687.48" y="748.20" font-size="17.8" fill="#174a88" stroke="#fff" stroke-width="0.2" textLength="49.58" lengthAdjust="spacingAndGlyphs">10,194</text><text x="797.50" y="748.20" font-size="17.8" fill="#174a88" stroke="#fff" stroke-width="0.2" textLength="47.81" lengthAdjust="spacingAndGlyphs">11,893</text><text x="910.94" y="748.20" font-size="17.8" fill="#174a88" stroke="#fff" stroke-width="0.2" textLength="51.42" lengthAdjust="spacingAndGlyphs">13,592</text><text x="1024.86" y="748.20" font-size="17.8" fill="#174a88" stroke="#fff" stroke-width="0.2" textLength="54.73" lengthAdjust="spacingAndGlyphs">17,000</text><text x="57.31" y="748.60" font-size="19.9" fill="#0a3d7c" stroke="#fff" stroke-width="0.35" textLength="30.06" lengthAdjust="spacingAndGlyphs">(m</text><text x="86.03" y="741.00" font-size="12" fill="#0a3d7c" textLength="7.03" lengthAdjust="spacingAndGlyphs">3</text><text x="91.83" y="748.60" font-size="19.9" fill="#0a3d7c" stroke="#fff" stroke-width="0.35" textLength="31.84" lengthAdjust="spacingAndGlyphs">/h)</text><g transform="rotate(-90)"><text x="-497.89" y="47.70" font-size="19.8" fill="#1e1e1e" stroke="#fff" stroke-width="0.35" textLength="99.25" lengthAdjust="spacingAndGlyphs">Discharge</text><text x="-394.98" y="47.70" font-size="19.8" fill="#1e1e1e" stroke="#fff" stroke-width="0.35" textLength="80.41" lengthAdjust="spacingAndGlyphs">Pressue</text><text x="-307.69" y="47.70" font-size="19.8" fill="#1e1e1e" stroke="#fff" stroke-width="0.35" textLength="7.48" lengthAdjust="spacingAndGlyphs">-</text><text x="-293.80" y="47.70" font-size="19.8" fill="#7d7d7d" stroke="#fff" stroke-width="0.35" textLength="37.28" lengthAdjust="spacingAndGlyphs">psig</text><text x="-252.48" y="47.70" font-size="19.8" fill="#0a3d7c" stroke="#fff" stroke-width="0.35" textLength="40.01" lengthAdjust="spacingAndGlyphs">(bar</text><text x="-208.38" y="47.70" font-size="19.8" fill="#0a3d7c" stroke="#fff" stroke-width="0.35" textLength="25.28" lengthAdjust="spacingAndGlyphs">g)</text></g></svg>
</body></html>
